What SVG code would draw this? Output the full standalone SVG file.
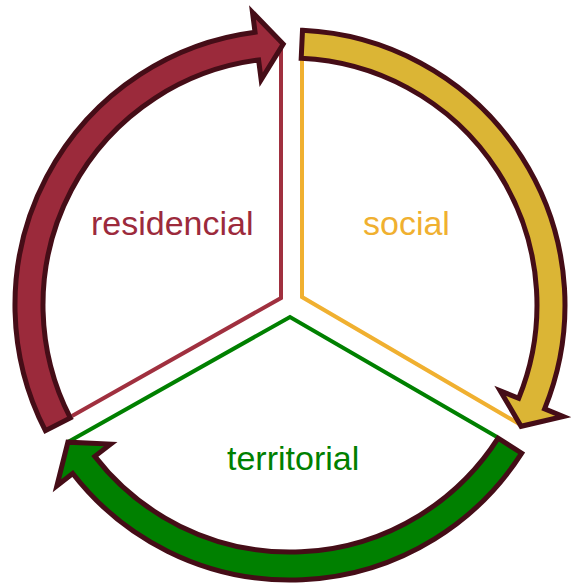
<svg xmlns="http://www.w3.org/2000/svg" width="571" height="587" viewBox="0 0 571 587">
<style>
.sec{fill:none;stroke-width:4;stroke-linejoin:miter}
.arr{stroke:#450d17;stroke-width:5;stroke-linejoin:miter}
.lbl{font-family:"Liberation Sans",Arial,sans-serif;font-size:34px}
</style>
<rect width="571" height="587" fill="#ffffff"/>
<g id="connectors">
<polyline class="sec" stroke="#a0303f" points="281,42 281,298 72,416"/>
<polyline class="sec" stroke="#f0b030" points="302,58 302,297 521,425"/>
<polyline class="sec" stroke="#008000" points="68,442 290,317 497,437"/>
</g>
<g id="residencial">
<path class="arr" fill="#9b2a3b" d="M45.4,430.7 A275,275 0 0 1 255.05,32.2 L252.5,12.4 L283.2,44.1 L261.15,79.8 L258.6,60.0 A247,247 0 0 0 70.3,417.9 Z"/>
<text class="lbl" x="91" y="235" fill="#9c2a3c">residencial</text>
</g>
<g id="social">
<path class="arr" fill="#dbb535" d="M302.5,30.3 A275,275 0 0 1 544.6,408.9 L563.1,416.5 L521.1,426.3 L500.2,390.8 L518.7,398.3 A247,247 0 0 0 301.2,58.3 Z"/>
<text class="lbl" x="363" y="235" fill="#f0b030">social</text>
</g>
<g id="territorial">
<path class="arr" fill="#008000" d="M521.7,453.2 A275,275 0 0 1 72.7,473.5 L56.9,485.8 L67.9,442.2 L110.6,444.1 L94.8,456.4 A247,247 0 0 0 498.1,438.1 Z"/>
<text class="lbl" x="227" y="470" fill="#008000">territorial</text>
</g>
</svg>
